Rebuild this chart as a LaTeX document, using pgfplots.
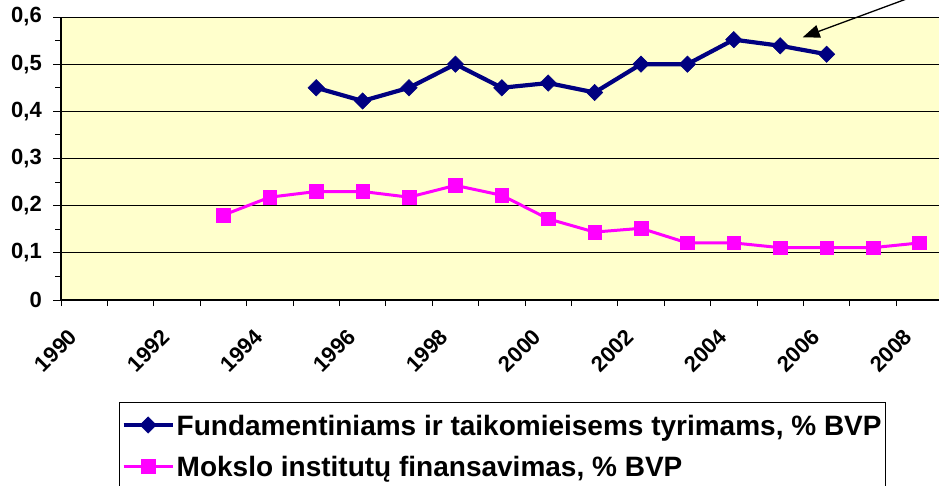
\documentclass[border=0pt]{standalone}
\usepackage{pgfplots}
\pgfplotsset{compat=1.18}
\usepackage{pgfplotstable}
\usepackage{fontspec}
\setmainfont{Liberation Sans}
\usetikzlibrary{arrows.meta}
\definecolor{navyb}{HTML}{000080}
\definecolor{magp}{HTML}{FF00FF}
\definecolor{plotbg}{HTML}{FFFFCC}

\pgfplotstableread{
year val
1995.5 0.450
1996.5 0.422
1997.5 0.450
1998.5 0.500
1999.5 0.450
2000.5 0.460
2001.5 0.440
2002.5 0.500
2003.5 0.500
2004.5 0.552
2005.5 0.539
2006.5 0.521
}\fundam

\pgfplotstableread{
year val
1993.5 0.180
1994.5 0.218
1995.5 0.230
1996.5 0.230
1997.5 0.218
1998.5 0.243
1999.5 0.222
2000.5 0.172
2001.5 0.144
2002.5 0.152
2003.5 0.121
2004.5 0.121
2005.5 0.111
2006.5 0.111
2007.5 0.111
2008.5 0.121
}\mokslo

\begin{document}
\begin{tikzpicture}
\path[use as bounding box] (-61pt,-185pt) rectangle (878pt,300pt);
\clip (-61pt,-185pt) rectangle (878pt,300pt);
\begin{axis}[
  at={(0pt,0pt)}, anchor=south west,
  scale only axis,
  width=881.6pt, height=283pt,
  xmin=1990, xmax=2009,
  ymin=0, ymax=0.6,
  axis x line*=bottom, axis y line*=left,
  axis line style={black, line width=1.5pt},
  axis background/.style={fill=plotbg},
  clip=false,
  xtick={1990.5,1992.5,1994.5,1996.5,1998.5,2000.5,2002.5,2004.5,2006.5,2008.5},
  xticklabels={1990,1992,1994,1996,1998,2000,2002,2004,2006,2008},
  minor xtick={1990,1991,...,2009},
  major x tick style={draw=none},
  minor x tick style={black, line width=1pt},
  ytick={0,0.1,...,0.61},
  minor y tick num=1,
  y tick style={black, line width=1pt},
  tick align=outside,
  major tick length=8pt,
  minor tick length=6pt,
  ymajorgrids,
  major grid style={black, line width=1pt},
  /pgf/number format/.cd, use comma, fixed, precision=1, assume math mode=true,
  /pgfplots/.cd,
  ticklabel style={font=\fontsize{22}{26}\selectfont\bfseries},
  yticklabel style={anchor=east, inner sep=0pt, xshift=-11pt},
  xticklabel style={font=\fontsize{22}{26}\selectfont\bfseries, inner sep=0pt, xshift=-11pt, yshift=-25pt, rotate=45, anchor=east},
  legend style={
    at={(0.0658,-0.3605)}, anchor=north west,
    draw=black, line width=1pt, fill=white,
    font=\fontsize{28}{32}\selectfont\bfseries,
    inner sep=2pt,
    nodes={inner sep=2pt, text height=28.5pt, text depth=8.5pt},
  },
  legend cell align=left,
  legend image code/.code={\draw[mark repeat=2,mark phase=2,#1] plot coordinates {(0pt,0pt)(24.5pt,0pt)(49pt,0pt)};},
]
\addplot[navyb, line width=4.2pt, mark=square*, mark size=5.8pt, mark options={solid, rotate=45, line width=0.5pt, fill=navyb}] table[x=year,y=val] {\fundam};
\addlegendentry{Fundamentiniams ir taikomieisems tyrimams, \% BVP\hspace{5pt}}
\addplot[magp, line width=3pt, mark=square*, mark size=6.8pt, mark options={solid, line width=0.5pt, fill=magp}] table[x=year,y=val] {\mokslo};
\addlegendentry{Mokslo institutų finansavimas, \% BVP}
\draw[black, line width=1.3pt, -{Triangle[length=17pt, width=13pt]}] (axis cs:2008.6,0.652) -- (axis cs:2005.985,0.557);
\end{axis}
\end{tikzpicture}
\end{document}
